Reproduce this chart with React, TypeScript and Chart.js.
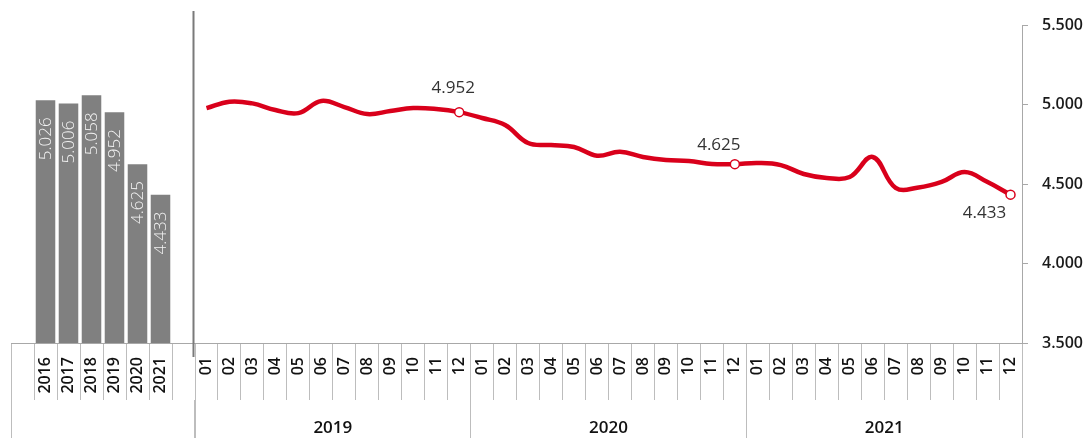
import React, { useEffect, useRef } from 'react';
import { Chart, registerables } from 'chart.js';

Chart.register(...registerables);

// ---- data ----
const annualYears = ['2016', '2017', '2018', '2019', '2020', '2021'];
const annualValues = [5026, 5006, 5058, 4952, 4625, 4433];

const monthNames = ['01', '02', '03', '04', '05', '06', '07', '08', '09', '10', '11', '12'];
const monthlyYears = ['2019', '2020', '2021'];
const values2019 = [4977, 5018, 5007, 4965, 4946, 5022, 4984, 4940, 4959, 4978, 4972, 4952];
const values2020 = [4915, 4871, 4758, 4745, 4733, 4678, 4703, 4670, 4651, 4645, 4626, 4625];
const values2021 = [4632, 4619, 4563, 4538, 4544, 4670, 4476, 4478, 4513, 4575, 4512, 4433];
const labelledMonths = [11, 23, 35];

const yMin = 3500;
const yMax = 5500;
const yStep = 500;

// ---- derived ----
const monthLabels = monthlyYears.flatMap(() => monthNames);
const monthlyValues = [...values2019, ...values2020, ...values2021];

const fmt = (v: number) => `${Math.floor(v / 1000)}.${String(Math.round(v) % 1000).padStart(3, '0')}`;

const RED = '#D9001B';
const GRID = '#bdbdbd';
const AXIS = '#a8a8a8';
const FONT = "'Open Sans', 'Segoe UI', sans-serif";

Chart.defaults.font.family = FONT;

const barLabelPlugin = {
  id: 'barLabels',
  afterDatasetsDraw(chart: any) {
    const ctx = chart.ctx;
    const meta = chart.getDatasetMeta(0);
    const data = chart.data.datasets[0].data as (number | null)[];
    ctx.save();
    ctx.font = `300 17px ${FONT}`;
    ctx.fillStyle = '#f2f2f2';
    ctx.textAlign = 'right';
    ctx.textBaseline = 'middle';
    meta.data.forEach((el: any, i: number) => {
      const v = data[i];
      if (v == null) return;
      ctx.save();
      ctx.translate(el.x + 1, el.y + 17);
      ctx.rotate(-Math.PI / 2);
      ctx.fillText(fmt(v), 0, 0);
      ctx.restore();
    });
    ctx.restore();
  },
};

const pointLabelPlugin = {
  id: 'pointLabels',
  afterDatasetsDraw(chart: any, _args: any, opts: any) {
    const ctx = chart.ctx;
    const meta = chart.getDatasetMeta(0);
    const data = chart.data.datasets[0].data as number[];
    ctx.save();
    ctx.font = `400 17px ${FONT}`;
    ctx.fillStyle = '#333';
    ctx.textAlign = 'center';
    ctx.textBaseline = 'alphabetic';
    (opts.items || []).forEach((it: any) => {
      const p = meta.data[it.index];
      if (!p) return;
      ctx.fillText(fmt(data[it.index]), p.x + it.dx, p.y + it.dy);
    });
    ctx.restore();
  },
};

const dividerPlugin = {
  id: 'divider',
  afterDraw(chart: any) {
    const ctx = chart.ctx;
    const x = chart.chartArea.left - 1.5;
    ctx.save();
    ctx.strokeStyle = '#7a7a7a';
    ctx.lineWidth = 2;
    ctx.beginPath();
    ctx.moveTo(x, 11);
    ctx.lineTo(x, 357);
    ctx.stroke();
    ctx.restore();
  },
};

export default function App() {
  const barRef = useRef<HTMLCanvasElement>(null);
  const lineRef = useRef<HTMLCanvasElement>(null);

  useEffect(() => {
    const bar = new Chart(barRef.current as HTMLCanvasElement, {
      type: 'bar',
      data: {
        labels: ['', ...annualYears, ''],
        datasets: [
          {
            data: [null, ...annualValues, null],
            backgroundColor: '#808080',
            barPercentage: 0.85,
            categoryPercentage: 1,
            base: yMin,
          } as any,
        ],
      },
      options: {
        animation: false,
        responsive: false,
        devicePixelRatio: 1,
        layout: { padding: { left: 11, right: 5, top: 25, bottom: 0 } },
        plugins: { legend: { display: false }, tooltip: { enabled: false } },
        scales: {
          y: { display: false, min: yMin, max: yMax },
          x: {
            weight: 0,
            offset: true,
            grid: { offset: true, drawOnChartArea: false, tickLength: 57, color: GRID },
            border: { display: true, color: AXIS },
            ticks: {
              autoSkip: false,
              minRotation: 90,
              maxRotation: 90,
              padding: -43,
              color: '#111',
              font: { size: 16, weight: '600' as any },
            },
            afterFit: (s: any) => {
              s.height = 57;
            },
          },
          x2: {
            type: 'category',
            labels: [''],
            position: 'bottom',
            weight: 1,
            offset: true,
            grid: { offset: true, drawOnChartArea: false, tickLength: 38, color: GRID },
            border: { display: false },
            ticks: { maxRotation: 0, minRotation: 0 },
            afterFit: (s: any) => {
              s.height = 38;
            },
          } as any,
        },
      },
      plugins: [barLabelPlugin],
    });

    const line = new Chart(lineRef.current as HTMLCanvasElement, {
      type: 'line',
      data: {
        labels: monthLabels,
        datasets: [
          {
            data: monthlyValues,
            borderColor: RED,
            borderWidth: 4.5,
            tension: 0.4,
            fill: false,
            pointRadius: (c: any) => (labelledMonths.includes(c.dataIndex) ? 4.5 : 0),
            pointHoverRadius: 0,
            pointBackgroundColor: '#ffffff',
            pointBorderColor: RED,
            pointBorderWidth: 1.5,
          },
        ],
      },
      options: {
        animation: false,
        responsive: false,
        devicePixelRatio: 1,
        layout: { padding: { left: 7, right: 0, top: 25, bottom: 0 } },
        plugins: {
          legend: { display: false },
          tooltip: { enabled: false },
          pointLabels: {
            items: [
              { index: 11, dx: -6, dy: -19 },
              { index: 23, dx: -16, dy: -14 },
              { index: 35, dx: -26, dy: 23 },
            ],
          },
        } as any,
        scales: {
          x: {
            weight: 0,
            offset: true,
            grid: { offset: true, drawOnChartArea: false, tickLength: 57, color: GRID },
            border: { display: true, color: AXIS },
            ticks: {
              autoSkip: false,
              minRotation: 90,
              maxRotation: 90,
              padding: -43,
              color: '#111',
              font: { size: 16, weight: '600' as any },
            },
            afterFit: (s: any) => {
              s.height = 57;
            },
          },
          x2: {
            type: 'category',
            labels: monthlyYears,
            position: 'bottom',
            weight: 1,
            offset: true,
            grid: { offset: true, drawOnChartArea: false, tickLength: 38, color: GRID },
            border: { display: false },
            ticks: {
              maxRotation: 0,
              minRotation: 0,
              padding: -20,
              color: '#111',
              font: { size: 17, weight: '600' as any },
            },
            afterFit: (s: any) => {
              s.height = 38;
            },
          } as any,
          y: {
            position: 'right',
            min: yMin,
            max: yMax,
            ticks: {
              stepSize: yStep,
              padding: 14,
              color: '#1a1a1a',
              font: { size: 16, weight: '600' as any },
              callback: (v: any) => fmt(Number(v)),
            },
            grid: { drawOnChartArea: false, tickLength: 6, color: AXIS },
            border: { display: true, color: AXIS },
            afterFit: (s: any) => {
              s.width = 67;
            },
          },
        },
      },
      plugins: [pointLabelPlugin, dividerPlugin],
    });

    return () => {
      bar.destroy();
      line.destroy();
    };
  }, []);

  return (
    <div style={{ position: 'fixed', left: 0, top: 0, width: 1089, height: 438, background: '#fff' }}>
      <canvas
        ref={barRef}
        width={200}
        height={438}
        style={{ position: 'absolute', left: 0, top: 0, width: 200, height: 438 }}
      />
      <canvas
        ref={lineRef}
        width={901}
        height={438}
        style={{ position: 'absolute', left: 188, top: 0, width: 901, height: 438 }}
      />
    </div>
  );
}
